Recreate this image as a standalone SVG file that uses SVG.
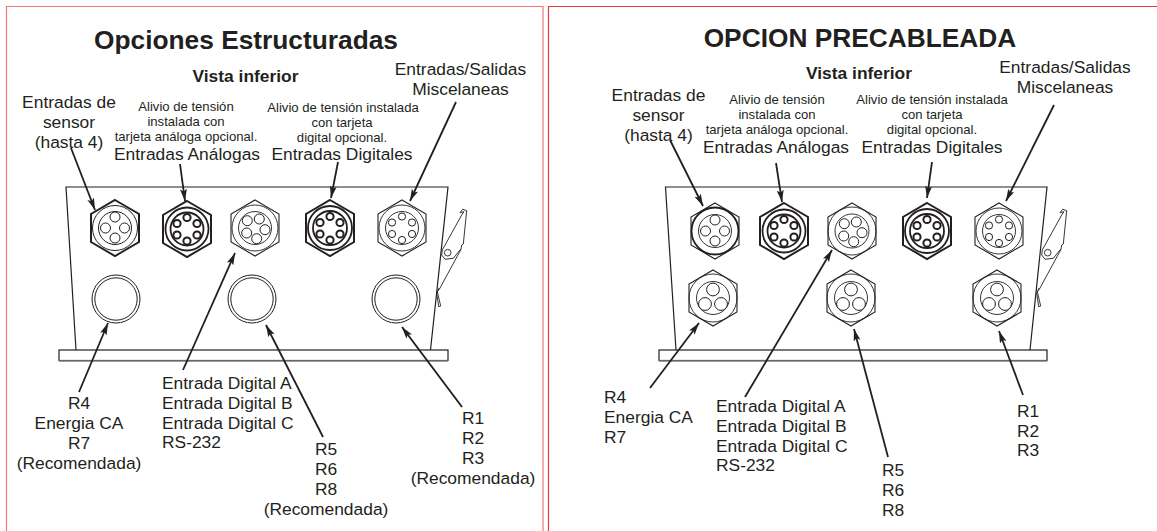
<svg xmlns="http://www.w3.org/2000/svg" width="1157" height="531" viewBox="0 0 1157 531">
<style>
text{font-family:"Liberation Sans",Arial,sans-serif;fill:#231f20;text-anchor:middle}
.t{font-size:26.3px;font-weight:bold}
.v{font-size:17.4px;font-weight:bold}
.l{font-size:17.4px}
.s{font-size:13.1px}
.left{text-anchor:start}
.p{fill:none;stroke:#231f20;stroke-width:1.2}
.c{stroke:#231f20;stroke-width:1.8;fill:none;marker-end:url(#a)}
.o{fill:#fff;stroke:#231f20;stroke-width:1}
.f{fill:none;stroke:#231f20;stroke-width:.9}
.k{fill:none;stroke:#231f20;stroke-width:1.8}
.h{fill:#fff;stroke:#231f20;stroke-width:1.1}
.hk{fill:#fff;stroke:#231f20;stroke-width:2}
.b{fill:#fff;stroke:#231f20;stroke-width:1.2}
.g{stroke:#808080;stroke-width:1.5;fill:none}
</style>
<defs>
<marker id="a" markerUnits="userSpaceOnUse" markerWidth="14" markerHeight="8" refX="12" refY="3.5" orient="auto"><path d="M0 0L12 3.500L0 7L2.500 3.500Z" fill="#231f20"/></marker>
<polygon id="hex" points="0,-28 24,-14 24,14 0,28 -24,14 -24,-14"/>
<g id="h5"><circle cx="-7.700" cy="-7.300" r="5"/><circle cx="4.300" cy="-9" r="5"/><circle cx="10" cy="1.700" r="5"/><circle cx="1.700" cy="10.700" r="5"/><circle cx="-8.300" cy="5" r="5"/></g>
<g id="h6k"><circle cy="-11.500" r="3.600"/><circle cx="10" cy="-5.500" r="3.600"/><circle cx="10" cy="6" r="3.600"/><circle cy="12" r="3.600"/><circle cx="-10" cy="6" r="3.600"/><circle cx="-10" cy="-5.500" r="3.600"/></g>
<g id="h4"><circle cy="-11" r="5"/><circle cx="-9.500" r="5"/><circle cx="9.500" r="5"/><circle cy="10" r="5"/></g>
<g id="h3"><circle cy="-8.500" r="6.400"/><circle cx="-8" cy="6" r="6.400"/><circle cx="8" cy="6" r="6.400"/></g>
<g id="latch" class="f"><path d="M460 212.700L462.700 209.300L466.700 210.700L463.300 244L461.700 245L461 249.300L439.300 289.300L437.300 291.700L440.700 306L438.700 306.700L436.700 293.300L439 288"/><path d="M461 249.300L460 250L453.300 258.300L445 259.300L441.700 255L442.300 250L461.700 215L464 211.700L460 212.700"/><circle cx="447.700" cy="252.700" r="3.300"/></g>
<g id="cable"><circle r="24" class="o"/><circle r="21.200" class="o"/></g>
</defs>
<rect width="1157" height="531" fill="#fff"/>
<g id="frames">
<path d="M6.500 531V6.500H543V531" fill="none" stroke="#ee7777" stroke-width="1.200"/>
<path d="M548.500 531V6.500H1157" fill="none" stroke="#e83a3a" stroke-width="1.200"/>
</g>
<g id="left-panel">
<path id="l-body" class="p" d="M76 350L66 187H448L430.500 350"/>
<rect id="l-base" class="b" x="59" y="350" width="389" height="10.500"/>
<path class="g" d="M59 361H448"/>
<use id="l-latch" href="#latch"/>
<g id="l-g1" transform="translate(115,228)"><use href="#hex" class="hk"/><circle r="22.500" class="o"/><circle r="16.500" class="o"/><use href="#h4" class="o"/></g>
<g id="l-g2" transform="translate(187,229)"><use href="#hex" class="hk"/><circle r="21.500" class="k"/><circle r="16.500" class="k"/><use href="#h6k" class="hk"/></g>
<g id="l-g3" transform="translate(255,228)"><use href="#hex" class="h"/><circle r="23" class="f"/><circle r="16.500" class="f"/><use href="#h5" class="o"/></g>
<g id="l-g4" transform="translate(330,228)"><use href="#hex" class="hk"/><circle r="22" class="k"/><circle r="17" class="k"/><use href="#h6k" class="hk"/></g>
<g id="l-g5" transform="translate(402,228)"><use href="#hex" class="h"/><circle r="23" class="f"/><circle r="16.500" class="f"/><use href="#h6k" class="o"/></g>
<use id="l-c1" href="#cable" x="116" y="299"/>
<use id="l-c2" href="#cable" x="252" y="299"/>
<use id="l-c3" href="#cable" x="396" y="299"/>
</g>
<g id="right-panel">
<path id="r-body" class="p" d="M676 350L665.500 187H1047L1030 350"/>
<rect id="r-base" x="659" y="350" width="388" height="10.500" fill="none" stroke="#231f20" stroke-width="1.200"/>
<path class="g" d="M659 361H1047"/>
<use id="r-latch" href="#latch" x="600"/>
<g id="r-g1" transform="translate(715,231)"><use href="#hex" class="h"/><circle r="23.500" class="k"/><circle r="16.500" class="f"/><use href="#h4" class="o"/></g>
<g id="r-g2" transform="translate(784,231)"><use href="#hex" class="hk"/><circle r="21.500" class="k"/><circle r="16.500" class="k"/><use href="#h6k" class="hk"/></g>
<g id="r-g3" transform="translate(852,231)"><use href="#hex" class="h"/><circle r="24" class="f"/><circle r="17" class="f"/><use href="#h5" class="o"/></g>
<g id="r-g4" transform="translate(927,231)"><use href="#hex" class="hk"/><circle r="22" class="k"/><circle r="17" class="k"/><use href="#h6k" class="hk"/></g>
<g id="r-g5" transform="translate(999,231)"><use href="#hex" class="h"/><circle r="23" class="f"/><circle r="16.500" class="f"/><use href="#h6k" class="o"/></g>
<g id="r-g6" transform="translate(713,298)"><use href="#hex" class="h"/><circle r="24" class="f"/><circle r="16.500" class="f"/><use href="#h3" class="o"/></g>
<g id="r-g7" transform="translate(851,298)"><use href="#hex" class="h"/><circle r="24" class="f"/><circle r="16.500" class="f"/><use href="#h3" class="o"/></g>
<g id="r-g8" transform="translate(997,298)"><use href="#hex" class="h"/><circle r="24" class="f"/><circle r="16.500" class="f"/><use href="#h3" class="o"/></g>
</g>
<g id="connectors">
<path class="c" d="M71 148L95 210"/>
<path class="c" d="M180 164L185 201"/>
<path class="c" d="M183 370L235 253"/>
<path class="c" d="M338 162L331 198"/>
<path class="c" d="M456 102L410 201"/>
<path class="c" d="M79 392L108 323"/>
<path class="c" d="M323 437L266 325"/>
<path class="c" d="M462 407L402 327"/>
<path class="c" d="M670 140L703 206"/>
<path class="c" d="M776 163L782 202"/>
<path class="c" d="M745 397L832 250"/>
<path class="c" d="M932 162L927 198"/>
<path class="c" d="M1054 105L1006 201"/>
<path class="c" d="M650 388L699 323"/>
<path class="c" d="M888 457L854 329"/>
<path class="c" d="M1023 395L999 331"/>
</g>
<g id="labels">
<text class="t" x="246" y="49">Opciones Estructuradas</text>
<text class="v" x="245.500" y="82">Vista inferior</text>
<text class="l" x="69" y="108">Entradas de</text><text class="l" x="69" y="128">sensor</text><text class="l" x="69" y="148">(hasta 4)</text>
<text class="s" x="186" y="111">Alivio de tensión</text><text class="s" x="186" y="126">instalada con</text><text class="s" x="186" y="141">tarjeta análoga opcional.</text>
<text class="l" x="187" y="160">Entradas Análogas</text>
<text class="s" x="343" y="112">Alivio de tensión instalada</text><text class="s" x="342" y="127">con tarjeta</text><text class="s" x="342" y="142">digital opcional.</text>
<text class="l" x="342" y="160">Entradas Digitales</text>
<text class="l" x="460.500" y="75">Entradas/Salidas</text><text class="l" x="460.500" y="95">Miscelaneas</text>
<text class="l" x="79" y="409">R4</text><text class="l" x="79" y="429">Energia CA</text><text class="l" x="79" y="449">R7</text><text class="l" x="79" y="469">(Recomendada)</text>
<text class="l left" x="162" y="389">Entrada Digital A</text><text class="l left" x="162" y="409">Entrada Digital B</text><text class="l left" x="162" y="429">Entrada Digital C</text><text class="l left" x="162" y="448">RS-232</text>
<text class="l" x="326" y="455">R5</text><text class="l" x="326" y="475">R6</text><text class="l" x="326" y="495">R8</text><text class="l" x="326" y="515">(Recomendada)</text>
<text class="l" x="473" y="424">R1</text><text class="l" x="473" y="444">R2</text><text class="l" x="473" y="464">R3</text><text class="l" x="473" y="484">(Recomendada)</text>
<text class="t" x="860" y="46.500">OPCION PRECABLEADA</text>
<text class="v" x="859" y="79">Vista inferior</text>
<text class="l" x="658.500" y="101">Entradas de</text><text class="l" x="658.500" y="121">sensor</text><text class="l" x="658.500" y="141">(hasta 4)</text>
<text class="s" x="777" y="103.500">Alivio de tensión</text><text class="s" x="777" y="118.500">instalada con</text><text class="s" x="777" y="133.500">tarjeta análoga opcional.</text>
<text class="l" x="776" y="153">Entradas Análogas</text>
<text class="s" x="932" y="103.500">Alivio de tensión instalada</text><text class="s" x="932" y="118.500">con tarjeta</text><text class="s" x="932" y="133.500">digital opcional.</text>
<text class="l" x="932" y="153">Entradas Digitales</text>
<text class="l" x="1065" y="73">Entradas/Salidas</text><text class="l" x="1065" y="93">Miscelaneas</text>
<text class="l left" x="604" y="403">R4</text><text class="l left" x="604" y="423">Energia CA</text><text class="l left" x="604" y="443">R7</text>
<text class="l left" x="716" y="412">Entrada Digital A</text><text class="l left" x="716" y="432">Entrada Digital B</text><text class="l left" x="716" y="451.500">Entrada Digital C</text><text class="l left" x="716" y="471">RS-232</text>
<text class="l left" x="882" y="476">R5</text><text class="l left" x="882" y="496">R6</text><text class="l left" x="882" y="515.500">R8</text>
<text class="l left" x="1017" y="416.500">R1</text><text class="l left" x="1017" y="436.500">R2</text><text class="l left" x="1017" y="456">R3</text>
</g>
</svg>
